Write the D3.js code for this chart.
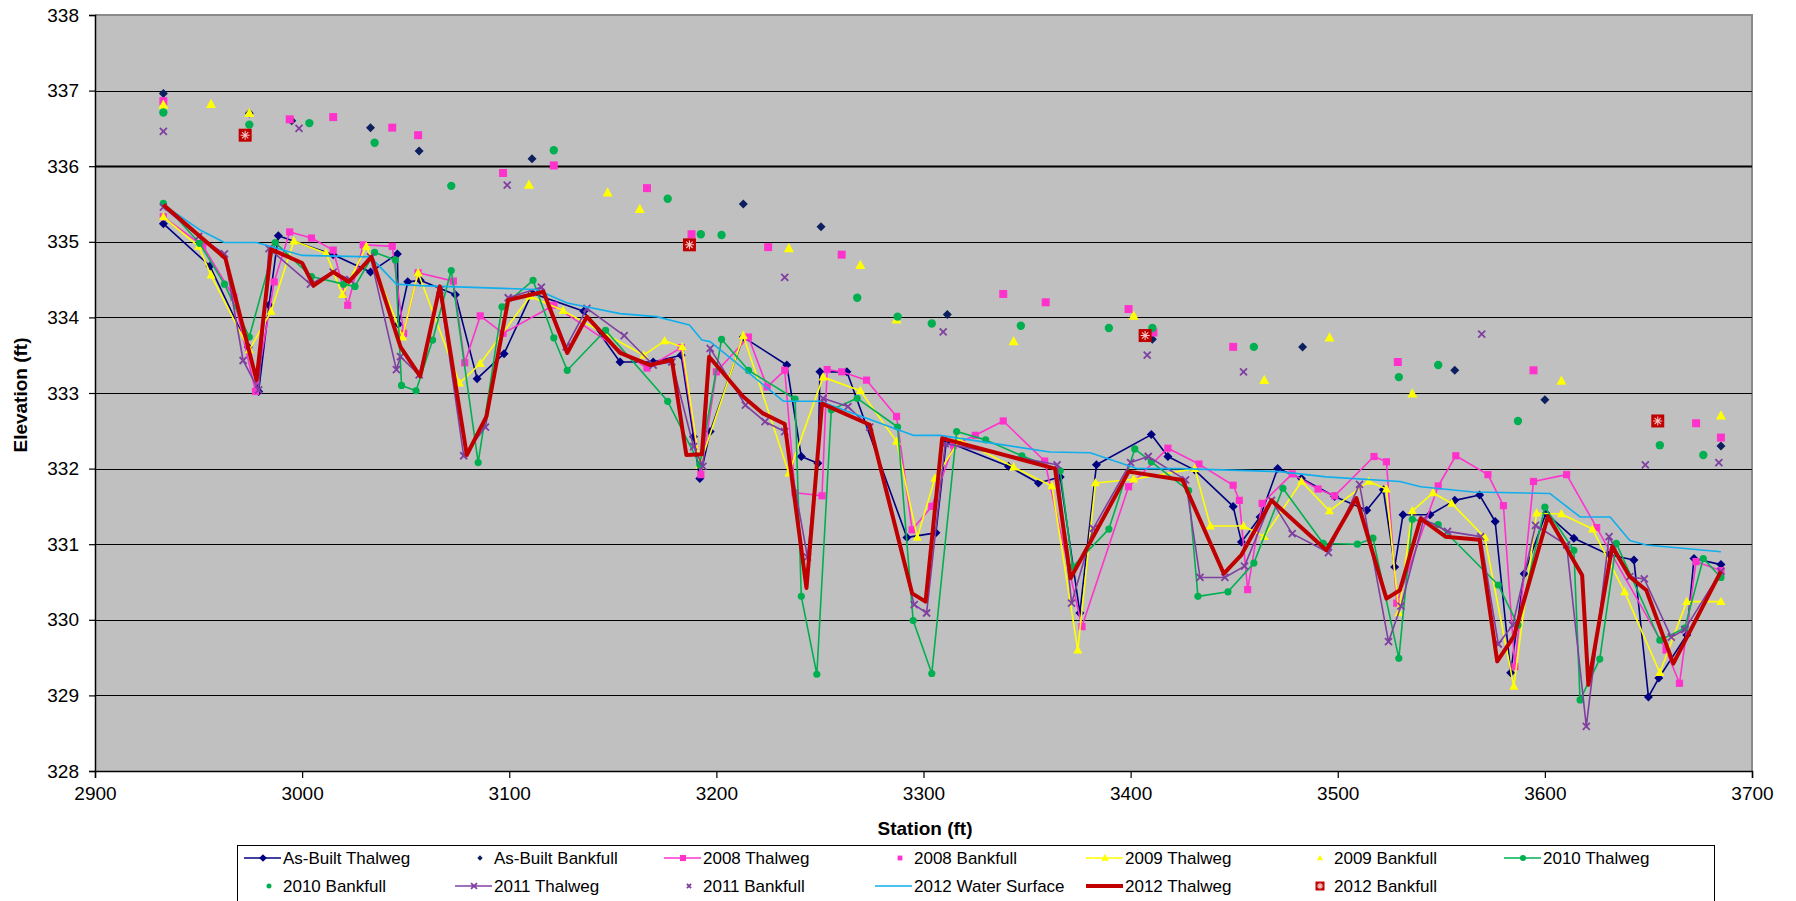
<!DOCTYPE html>
<html>
<head>
<meta charset="utf-8">
<script src="https://cdnjs.cloudflare.com/ajax/libs/d3/7.8.5/d3.min.js"></script>
<style>
  body { margin: 0; background: #fff; }
  svg { display: block; font-family: "Liberation Sans", Arial, sans-serif; }
</style>
</head>
<body>
<script>
// station (ft), elevation (ft) pairs
var asBuiltThalweg = [[2933,335.24],[2955.5,334.68],[2974,333.61],[2979,333.02],[2984,334.16],[2988.5,335.08],[3015,334.83],[3033,334.60],[3046,334.84],[3046.5,333.91],[3051,334.47],[3057,334.49],[3074,334.30],[3084.5,333.19],[3097.5,333.52],[3111,334.32],[3136,334.08],[3153.5,333.41],[3169.5,333.41],[3183,333.50],[3189,332.42],[3192,331.87],[3197,332.49],[3213,333.74],[3234,333.37],[3241,332.16],[3249,332.07],[3250,333.28],[3263,333.28],[3292,331.09],[3306,331.15],[3311,332.36],[3341,332.03],[3355.5,331.81],[3366,331.89],[3375.5,330.09],[3383.5,332.05],[3410,332.45],[3418,332.16],[3431,331.98],[3449.5,331.50],[3453.5,331.03],[3462.5,331.36],[3471,332.00],[3482.5,331.87],[3498.5,331.63],[3514,331.45],[3522,331.72],[3527.5,330.70],[3531.5,331.39],[3544.5,331.39],[3556.5,331.58],[3568.5,331.65],[3576,331.30],[3583.5,329.30],[3590,330.61],[3600.5,331.41],[3614,331.08],[3631,330.86],[3643,330.79],[3650,328.98],[3655,329.23],[3668.5,329.80],[3672,330.81],[3685,330.73]];
var asBuiltBankfull = [[2933,336.96],[2974.5,336.70],[2995,336.60],[3033,336.51],[3056.5,336.20],[3111,336.10],[3213,335.50],[3250.5,335.20],[3311.5,334.04],[3410.5,333.71],[3483,333.61],[3556.5,333.30],[3600,332.91],[3685,332.30]];

var thalweg2008 = [[2933,335.33],[2952,334.95],[2967,334.27],[2977.5,333.02],[2986.5,334.47],[2994,335.13],[3004.5,335.05],[3015,334.89],[3022,334.16],[3029.5,334.96],[3043.5,334.94],[3049,333.79],[3056,334.59],[3073,334.48],[3078.5,333.40],[3086,334.02],[3097,333.79],[3121.5,334.16],[3166.5,333.33],[3183,333.60],[3192.5,331.92],[3200,333.28],[3215.5,333.74],[3224.5,333.08],[3233,333.30],[3238,331.68],[3251,331.64],[3253.5,333.31],[3260.5,333.28],[3272.5,333.17],[3287,332.69],[3294.5,331.19],[3304,331.50],[3314.5,332.31],[3325,332.44],[3338.5,332.63],[3358.5,332.10],[3376.5,329.91],[3399,331.76],[3418,332.27],[3433,332.06],[3449.5,331.78],[3452.5,331.58],[3456.5,330.40],[3463.5,331.54],[3478,331.93],[3490.5,331.73],[3498.5,331.64],[3517.5,332.16],[3523.5,332.09],[3528.5,330.22],[3548.5,331.77],[3557,332.17],[3572.5,331.92],[3580,331.51],[3585.5,329.38],[3594.5,331.83],[3610.5,331.92],[3625,331.22],[3658.5,329.60],[3665,329.16],[3673,330.77],[3685,330.65]];
var bankfull2008 = [[2933,336.86],[2994,336.62],[3015,336.65],[3043.5,336.51],[3056,336.41],[3097,335.91],[3121.5,336.01],[3166.5,335.71],[3188,335.10],[3225,334.93],[3260.5,334.83],[3338.5,334.31],[3359,334.20],[3399,334.11],[3411,333.80],[3449.5,333.61],[3529,333.41],[3594.5,333.30],[3673,332.60],[3685,332.41]];

var thalweg2009 = [[2933,335.33],[2950,334.94],[2956,334.56],[2974.5,333.57],[2985,334.08],[2996,335.01],[3011.5,334.85],[3019.5,334.30],[3031,334.94],[3048.5,333.74],[3056,334.59],[3076,333.13],[3086,333.39],[3110,334.28],[3126,334.09],[3165,333.50],[3175,333.69],[3183.5,333.61],[3192,332.05],[3213,333.76],[3235,331.94],[3251.5,333.21],[3269.5,333.03],[3287,332.36],[3297,331.09],[3305.5,331.87],[3317.5,332.38],[3343.5,332.02],[3362,331.77],[3374.5,329.60],[3383,331.81],[3401.5,331.86],[3431,332.00],[3438.5,331.24],[3454.5,331.24],[3464.5,331.10],[3482.5,331.83],[3496,331.44],[3515,331.83],[3523.5,331.73],[3529.5,330.09],[3536,331.44],[3546,331.68],[3555,331.54],[3571,331.09],[3585,329.12],[3596,331.41],[3608,331.40],[3623,331.20],[3638.5,330.37],[3655.5,329.30],[3668.5,330.24],[3685,330.24]];
var bankfull2009 = [[2933,336.81],[2956,336.82],[2974.5,336.70],[3109.5,335.75],[3147.5,335.65],[3163,335.43],[3235,334.91],[3269.5,334.69],[3287,333.97],[3343.5,333.68],[3401.5,334.02],[3464.5,333.17],[3496,333.73],[3536,332.99],[3608,333.16],[3685,332.70]];

var thalweg2010 = [[2933,335.51],[2950.5,334.98],[2962.5,334.44],[2974.5,333.74],[2987,334.99],[3004.5,334.54],[3020,334.44],[3025.5,334.41],[3035,334.86],[3045,334.76],[3048,333.10],[3055,333.03],[3063,333.70],[3072,334.62],[3085,332.08],[3096.5,334.14],[3111.5,334.49],[3121.5,333.73],[3128,333.30],[3146.5,333.83],[3176.5,332.89],[3192,332.05],[3202.5,333.71],[3215.5,333.30],[3238,332.92],[3241,330.31],[3248.5,329.28],[3255.5,332.78],[3268,332.93],[3287.5,332.55],[3295,329.99],[3304,329.29],[3316,332.49],[3330,332.38],[3347.5,332.17],[3366,331.97],[3372,330.70],[3389.5,331.20],[3402,332.26],[3410,332.09],[3428,331.71],[3432.5,330.31],[3447,330.37],[3459.5,330.75],[3473.5,331.74],[3493,331.01],[3509.5,331.00],[3517,331.08],[3529.5,329.49],[3536,331.33],[3548.5,331.26],[3577.5,330.46],[3587,329.93],[3600,331.49],[3614,330.92],[3617,328.94],[3626.5,329.48],[3634.5,331.01],[3655.5,329.73],[3667.5,329.89],[3676.5,330.81],[3685,330.56]];
var bankfull2010 = [[2933,336.71],[2974.5,336.55],[3003.5,336.57],[3035,336.31],[3072,335.74],[3121.5,336.21],[3176.5,335.57],[3192.5,335.10],[3202.5,335.09],[3268,334.26],[3287.5,334.01],[3304,333.92],[3347,333.89],[3389.5,333.86],[3410.5,333.86],[3459.5,333.61],[3529.5,333.21],[3548.5,333.37],[3587,332.63],[3655.5,332.31],[3676.5,332.18]];

var thalweg2011 = [[2933,335.46],[2950,335.07],[2962.5,334.84],[2971.5,333.43],[2979,333.04],[2984,334.91],[3004,334.44],[3015,334.60],[3023,334.50],[3033,334.80],[3045.5,333.31],[3047.5,333.48],[3056.5,333.24],[3066.5,334.36],[3078,332.17],[3088.5,332.55],[3099.5,334.26],[3115.5,334.40],[3127.5,333.61],[3137.5,334.12],[3155.5,333.76],[3169.5,333.37],[3178.5,333.41],[3189,332.29],[3193.5,332.03],[3197,333.59],[3214,332.84],[3223.5,332.62],[3233,332.49],[3244,330.83],[3251.5,332.93],[3263.5,332.82],[3274,332.55],[3295.5,330.20],[3301.5,330.09],[3310.5,332.33],[3364.5,332.05],[3371.5,330.22],[3382,331.21],[3400,332.08],[3408.5,332.16],[3426.5,331.85],[3433.5,330.56],[3445.5,330.56],[3455,330.71],[3468,331.58],[3478,331.14],[3495.5,330.89],[3510.5,331.79],[3524.5,329.71],[3530.5,330.18],[3541.5,331.33],[3553,331.17],[3569,331.10],[3577.5,329.68],[3584.5,329.93],[3595.5,331.25],[3610.5,330.99],[3620,328.59],[3631,331.10],[3641,330.57],[3648,330.54],[3661,329.77],[3667.5,329.87],[3685,330.64]];
var bankfull2011 = [[2933,336.46],[2998.5,336.50],[3099,335.75],[3233,334.53],[3309.5,333.81],[3408,333.50],[3454.5,333.28],[3569.5,333.78],[3648.5,332.05],[3684,332.08]];

var waterSurface2012 = [[2933,335.49],[2950.5,335.16],[2962.5,334.99],[2978,334.99],[3000,334.82],[3033,334.80],[3045.5,334.44],[3057,334.42],[3113,334.37],[3128,334.19],[3153.5,334.05],[3171,334.01],[3187,333.90],[3193,333.70],[3197,333.68],[3232.5,332.89],[3250,332.89],[3295,332.44],[3308,332.44],[3361,332.22],[3380.5,332.21],[3403,332.00],[3424,332.00],[3472,331.96],[3494.5,331.89],[3530,331.83],[3540,331.76],[3565.5,331.69],[3602.5,331.67],[3617,331.36],[3631.5,331.36],[3641,331.05],[3649,330.99],[3685,330.90]];
var thalweg2012 = [[2933,335.49],[2963,334.78],[2978,333.17],[2985,334.90],[3000,334.72],[3005.5,334.42],[3015,334.60],[3022.5,334.47],[3033.5,334.80],[3047.5,333.61],[3057,333.22],[3066.5,334.41],[3079.5,332.18],[3089,332.69],[3099.5,334.23],[3116.5,334.34],[3128,333.53],[3137.5,334.01],[3153.5,333.53],[3168,333.37],[3178.5,333.44],[3185.5,332.18],[3193,332.19],[3196.5,333.48],[3213,332.95],[3222.5,332.73],[3233,332.59],[3243.5,330.42],[3251,332.86],[3274,332.58],[3294.5,330.35],[3301,330.24],[3309,332.40],[3363.5,332.00],[3371,330.55],[3399,331.96],[3425,331.85],[3445,330.61],[3453.5,330.86],[3468,331.58],[3494.5,330.92],[3509,331.61],[3523.5,330.28],[3530,330.39],[3540,331.34],[3552,331.10],[3568.5,331.06],[3577,329.45],[3585,329.78],[3601.5,331.37],[3618,330.59],[3621,329.14],[3632.5,330.97],[3641,330.57],[3649,330.39],[3662,329.42],[3685,330.64]];
var bankfull2012 = [[2972.5,336.41],[3187,334.96],[3407,333.76],[3654.5,332.63]];

var xTicks = [2900, 3000, 3100, 3200, 3300, 3400, 3500, 3600, 3700];
var yTicks = [328, 329, 330, 331, 332, 333, 334, 335, 336, 337, 338];

// series in Excel drawing order; legend slot = [column, row]
var series = [
  {name: 'As-Built Thalweg',  data: asBuiltThalweg,   color: '#000080', line: 1.6, marker: 'diamond',  size: 4.5, slot: [0, 0]},
  {name: 'As-Built Bankfull', data: asBuiltBankfull,  color: '#0c1f5e', line: 0,   marker: 'diamond',  size: 4.5, slot: [1, 0]},
  {name: '2008 Thalweg',      data: thalweg2008,      color: '#ff33cc', line: 1.6, marker: 'square',   size: 3.6, slot: [2, 0]},
  {name: '2008 Bankfull',     data: bankfull2008,     color: '#ff33cc', line: 0,   marker: 'square',   size: 4,   slot: [3, 0]},
  {name: '2009 Thalweg',      data: thalweg2009,      color: '#ffff00', line: 1.6, marker: 'triangle', size: 4.5, slot: [4, 0]},
  {name: '2009 Bankfull',     data: bankfull2009,     color: '#ffff00', line: 0,   marker: 'triangle', size: 5,   slot: [5, 0]},
  {name: '2010 Thalweg',      data: thalweg2010,      color: '#00b050', line: 1.6, marker: 'circle',   size: 3.6, slot: [6, 0]},
  {name: '2010 Bankfull',     data: bankfull2010,     color: '#00b050', line: 0,   marker: 'circle',   size: 4.2, slot: [0, 1]},
  {name: '2011 Thalweg',      data: thalweg2011,      color: '#7f3fa0', line: 1.6, marker: 'x',        size: 3.5, slot: [1, 1]},
  {name: '2011 Bankfull',     data: bankfull2011,     color: '#7f3fa0', line: 0,   marker: 'x',        size: 3.5, slot: [2, 1]},
  {name: '2012 Water Surface', data: waterSurface2012, color: '#10aeec', line: 1.6, marker: null,      size: 0,   slot: [3, 1]},
  {name: '2012 Thalweg',      data: thalweg2012,      color: '#c00000', line: 4,   marker: null,       size: 0,   slot: [4, 1]},
  {name: '2012 Bankfull',     data: bankfull2012,     color: '#c00000', line: 0,   marker: 'star',     size: 6.5, slot: [5, 1]}
];

var W = 1796, H = 901;
var plotL = 95, plotR = 1752, plotT = 15, plotB = 771;

var svg = d3.select('body').append('svg').attr('width', W).attr('height', H);
svg.append('rect').attr('width', W).attr('height', H).attr('fill', '#fff');

var x = d3.scaleLinear().domain([2900, 3700]).range([plotL, plotR]);
var y = d3.scaleLinear().domain([328, 338]).range([plotB, plotT]);

// plot area
svg.append('rect')
  .attr('x', plotL).attr('y', plotT)
  .attr('width', plotR - plotL).attr('height', plotB - plotT)
  .attr('fill', '#c0c0c0');
svg.append('path')
  .attr('d', `M${plotL},${plotT}H${plotR}V${plotB}`)
  .attr('fill', 'none').attr('stroke', '#8a8a8a').attr('stroke-width', 2);

// gridlines
svg.append('g').selectAll('line')
  .data(yTicks.slice(1, -1))
  .enter().append('line')
  .attr('x1', plotL).attr('x2', plotR)
  .attr('y1', d => Math.round(y(d)) + 0.5).attr('y2', d => Math.round(y(d)) + 0.5)
  .attr('stroke', '#000')
  .attr('stroke-width', d => d === 336 ? 2.2 : 1);

// axes
var yAxis = svg.append('g')
  .attr('transform', `translate(${plotL},0)`)
  .call(d3.axisLeft(y).tickValues(yTicks).tickSize(6).tickPadding(10).tickFormat(d3.format('d')));
var xAxis = svg.append('g')
  .attr('transform', `translate(0,${plotB})`)
  .call(d3.axisBottom(x).tickValues(xTicks).tickSize(7).tickPadding(9).tickFormat(d3.format('d')));
[yAxis, xAxis].forEach(function(g) {
  g.select('.domain').attr('stroke', '#000').attr('stroke-width', 1.5);
  g.selectAll('.tick line').attr('stroke', '#000').attr('stroke-width', 1.2);
  g.selectAll('.tick text')
    .attr('font-family', '"Liberation Sans", Arial, sans-serif')
    .attr('font-size', 19).attr('fill', '#000');
});

svg.append('text')
  .attr('transform', 'translate(27,395) rotate(-90)')
  .attr('text-anchor', 'middle')
  .attr('font-size', 19).attr('font-weight', 'bold')
  .text('Elevation (ft)');
svg.append('text')
  .attr('x', 925).attr('y', 835)
  .attr('text-anchor', 'middle')
  .attr('font-size', 19).attr('font-weight', 'bold')
  .text('Station (ft)');

function markerPath(type, s) {
  switch (type) {
    case 'diamond': return `M0,${-s}L${s},0L0,${s}L${-s},0Z`;
    case 'square': return `M${-s},${-s}H${s}V${s}H${-s}Z`;
    case 'triangle': return `M0,${-s * 1.1}L${s},${s * 0.75}L${-s},${s * 0.75}Z`;
    case 'circle': return d3.symbol(d3.symbolCircle, Math.PI * s * s)();
    case 'x': return `M${-s},${-s}L${s},${s}M${s},${-s}L${-s},${s}`;
    case 'star': return `M${-s},${-s}H${s}V${s}H${-s}Z`;
  }
  return '';
}

function drawMarker(g, s, size) {
  var p = g.append('path').attr('d', markerPath(s.marker, size));
  if (s.marker === 'x') {
    p.attr('fill', 'none').attr('stroke', s.color).attr('stroke-width', 1.8);
  } else {
    p.attr('fill', s.color);
  }
  if (s.marker === 'star') {
    var k = size * 0.7;
    g.append('path')
      .attr('d', `M0,${-k}V${k}M${-k},0H${k}M${-k * 0.7},${-k * 0.7}L${k * 0.7},${k * 0.7}M${k * 0.7},${-k * 0.7}L${-k * 0.7},${k * 0.7}`)
      .attr('stroke', '#f3c4c4').attr('stroke-width', 1.1).attr('fill', 'none');
  }
}

var line = d3.line().x(d => x(d[0])).y(d => y(d[1]));
var plot = svg.append('g');

series.forEach(function(s) {
  var g = plot.append('g');
  if (s.line) {
    g.append('path')
      .datum(s.data)
      .attr('d', line)
      .attr('fill', 'none')
      .attr('stroke', s.color)
      .attr('stroke-width', s.line)
      .attr('stroke-linejoin', 'round');
  }
  if (s.marker) {
    g.selectAll('g.pt')
      .data(s.data)
      .enter().append('g')
      .attr('class', 'pt')
      .attr('transform', d => `translate(${x(d[0])},${y(d[1])})`)
      .each(function() { drawMarker(d3.select(this), s, s.size); });
  }
});

// legend
var legend = svg.append('g');
legend.append('rect')
  .attr('x', 237.5).attr('y', 845.5)
  .attr('width', 1477).attr('height', 80)
  .attr('fill', '#fff').attr('stroke', '#000').attr('stroke-width', 1);

var colX = [283, 494, 703, 914, 1125, 1334, 1543];
var rowY = [858, 886];
series.forEach(function(s) {
  var tx = colX[s.slot[0]], ty = rowY[s.slot[1]];
  var item = legend.append('g');
  if (s.line) {
    item.append('line')
      .attr('x1', tx - 39).attr('x2', tx - 2)
      .attr('y1', ty).attr('y2', ty)
      .attr('stroke', s.color).attr('stroke-width', s.line);
    if (s.marker) {
      var mg = item.append('g').attr('transform', `translate(${tx - 20},${ty})`);
      drawMarker(mg, s, s.size * 0.85);
    }
  } else {
    var mg2 = item.append('g').attr('transform', `translate(${tx - 14},${ty})`);
    drawMarker(mg2, s, s.marker === 'star' ? 4.5 : s.size * 0.6);
  }
  item.append('text')
    .attr('x', tx).attr('y', ty + 6)
    .attr('font-size', 17)
    .text(s.name);
});
</script>
</body>
</html>
